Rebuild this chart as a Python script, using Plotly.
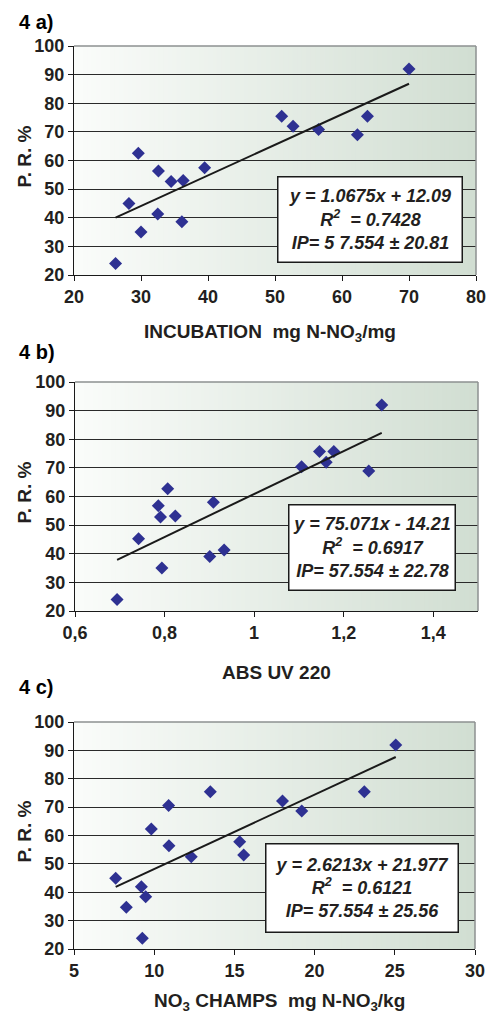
import numpy as np
import plotly.graph_objects as go

# ---- data ----------------------------------------------------------------------
# panel 4 a) incubation
inc_x = [26.2, 28.2, 30.0, 32.5, 29.6, 32.6, 34.5, 36.3, 36.1, 39.5, 51.0, 52.7, 56.5, 62.3, 63.8, 70.0]
inc_y = [24.0, 45.0, 35.0, 41.3, 62.5, 56.3, 52.7, 53.0, 38.6, 57.5, 75.5, 72.0, 70.8, 69.0, 75.5, 92.0]

# panel 4 b) ABS UV 220
abs_x = [0.694, 0.742, 0.794, 0.786, 0.791, 0.807, 0.824, 0.901, 0.909, 0.933, 1.106, 1.146, 1.161, 1.178, 1.256, 1.285]
abs_y = [24.0, 45.2, 35.0, 56.8, 52.8, 62.7, 53.2, 39.0, 58.0, 41.3, 70.4, 75.7, 72.0, 75.7, 68.9, 92.0]

# panel 4 c) NO3 champs
no3_x = [7.6, 8.26, 9.2, 9.26, 9.47, 9.82, 10.9, 10.92, 12.31, 13.5, 15.33, 15.58, 18.0, 19.2, 23.1, 25.06]
no3_y = [44.9, 34.7, 41.9, 23.8, 38.4, 62.3, 70.6, 56.4, 52.5, 75.4, 57.8, 53.1, 72.2, 68.6, 75.4, 91.9]

# regression coefficients as printed on the chart
fits = [(1.0675, 12.09), (75.071, -14.21), (2.6213, 21.977)]

eq_text = [
    "<b><i>y = 1.0675x + 12.09<br>R<sup>2</sup>  = 0.7428<br>IP= 5 7.554 ± 20.81</i></b>",
    "<b><i>y = 75.071x - 14.21<br>R<sup>2</sup>  = 0.6917<br>IP= 57.554 ± 22.78</i></b>",
    "<b><i>y = 2.6213x + 21.977<br>R<sup>2</sup>  = 0.6121<br>IP= 57.554 ± 25.56</i></b>",
]
panel_labels = ["4 a)", "4 b)", "4 c)"]
x_titles = [
    "INCUBATION\u00a0\u00a0mg N-NO<sub>3</sub>/mg",
    "ABS UV 220",
    "NO<sub>3</sub> CHAMPS\u00a0\u00a0mg N-NO<sub>3</sub>/kg",
]
x_ranges = [[20, 80], [0.6, 1.5], [5, 30]]
x_dticks = [10, 0.2, 5]

# ---- layout geometry (pixels in the 498x1025 window) --------------------------
# the page body keeps its default 8px margin, so the figure is 16px smaller
PAD = 8
W, H = 498 - 2 * PAD, 1025 - 2 * PAD
plot_px = [  # left, right, top, bottom
    (74, 476, 46, 275),
    (75, 478, 382, 611),
    (74, 475, 722, 949),
]
label_y = [22, 352, 687]
xtitle_pos = [(270, 333), (276, 672), (279, 1002)]
box_pos = [(369.5, 219, 179, 80), (371.5, 547.5, 161, 80), (362, 888, 187, 83)]

FONT = "Liberation Sans, Arial, sans-serif"
TXT = "#231f20"
MARK = "#2e3192"


def px_x(v):
    return (v - PAD) / W


def px_y(v):
    return 1 - (v - PAD) / H


fig = go.Figure()
shapes = []
annotations = []

panels = [(inc_x, inc_y), (abs_x, abs_y), (no3_x, no3_y)]
n_strip = 90
c0 = np.array([250, 252, 250])
c1 = np.array([209, 222, 210])

for i, (xs, ys) in enumerate(panels):
    n = "" if i == 0 else str(i + 1)
    xa, ya = "x" + n, "y" + n
    left, right, top, bottom = plot_px[i]

    fig.add_trace(go.Scatter(
        x=xs, y=ys, mode="markers", xaxis=xa, yaxis=ya,
        marker=dict(symbol="diamond", size=10, color=MARK, line=dict(width=0)),
        showlegend=False, hoverinfo="skip",
    ))
    a, b = fits[i]
    lx = np.array([min(xs), max(xs)])
    fig.add_trace(go.Scatter(
        x=lx, y=a * lx + b, mode="lines", xaxis=xa, yaxis=ya,
        line=dict(color="#1a1a1a", width=2), showlegend=False, hoverinfo="skip",
    ))

    fig.layout["xaxis" + n] = dict(
        domain=[px_x(left), px_x(right)], anchor=ya, range=x_ranges[i],
        dtick=x_dticks[i], tick0=x_ranges[i][0], showgrid=False, zeroline=False,
        showline=True, linecolor="#1a1a1a", linewidth=1, automargin=False,
        ticks="outside", ticklen=5, tickcolor="#1a1a1a",
        tickfont=dict(family=FONT, size=18, color=TXT, weight="bold"),
    )
    fig.layout["yaxis" + n] = dict(
        domain=[px_y(bottom), px_y(top)], anchor=xa, range=[20, 100],
        dtick=10, showgrid=True, gridcolor="#2a2a2a", gridwidth=1, zeroline=False,
        showline=True, linecolor="#1a1a1a", linewidth=1, automargin=False,
        ticks="outside", ticklen=5, tickcolor="#1a1a1a",
        tickfont=dict(family=FONT, size=18, color=TXT, weight="bold"),
    )

    # gradient background in stripes
    for k in range(n_strip):
        t = k / (n_strip - 1)
        c = (c0 + (c1 - c0) * t).round().astype(int)
        shapes.append(dict(
            type="rect", xref=xa + " domain", yref=ya + " domain",
            x0=k / n_strip, x1=min((k + 1) / n_strip + 0.002, 1), y0=0, y1=1,
            fillcolor="rgb(%d,%d,%d)" % tuple(c), line=dict(width=0), layer="below",
        ))
    # grey top and right frame
    shapes.append(dict(type="line", xref=xa + " domain", yref=ya + " domain",
                       x0=0, x1=1, y0=1, y1=1, line=dict(color="#8c9191", width=1.5)))
    shapes.append(dict(type="line", xref=xa + " domain", yref=ya + " domain",
                       x0=1, x1=1, y0=0, y1=1, line=dict(color="#8c9191", width=1.5)))

    annotations.append(dict(
        text="<b>" + panel_labels[i] + "</b>", xref="paper", yref="paper",
        x=px_x(17), y=px_y(label_y[i]),
        xanchor="left", yanchor="middle", showarrow=False,
        font=dict(family=FONT, size=20, color="#000000"),
    ))
    annotations.append(dict(
        text="<b>P. R. %</b>", xref="paper", yref="paper", x=px_x(24),
        y=px_y((top + bottom) / 2 - 4), textangle=-90,
        xanchor="center", yanchor="middle", showarrow=False,
        font=dict(family=FONT, size=19, color=TXT),
    ))
    tx, ty = xtitle_pos[i]
    annotations.append(dict(
        text="<b>" + x_titles[i] + "</b>", xref="paper", yref="paper",
        x=px_x(tx), y=px_y(ty),
        xanchor="center", yanchor="middle", showarrow=False,
        font=dict(family=FONT, size=19, color=TXT),
    ))
    bx, by, bw, bh = box_pos[i]
    annotations.append(dict(
        text=eq_text[i], xref="paper", yref="paper", x=px_x(bx), y=px_y(by),
        xanchor="center", yanchor="middle", showarrow=False,
        width=bw, height=bh, align="center", valign="middle",
        bgcolor="white", bordercolor="#1a1a1a", borderwidth=1.5, borderpad=2,
        font=dict(family=FONT, size=18, color=TXT),
    ))

fig.update_layout(
    template="none",
    width=W, height=H,
    margin=dict(l=0, r=0, t=0, b=0, autoexpand=False),
    paper_bgcolor="white", plot_bgcolor="rgba(0,0,0,0)",
    separators=", ",
    showlegend=False,
    shapes=shapes, annotations=annotations,
)

fig.write_html("out.html")
